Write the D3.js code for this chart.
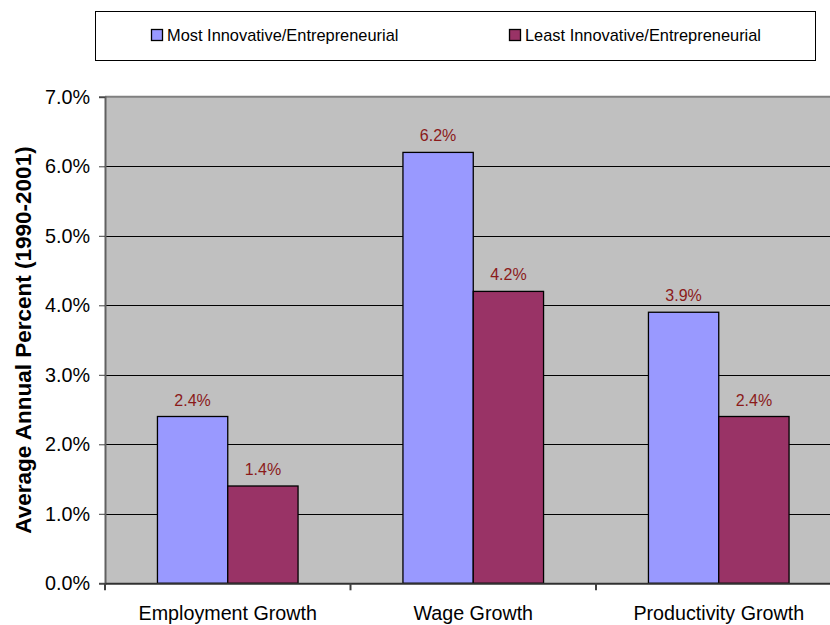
<!DOCTYPE html>
<html>
<head>
<meta charset="utf-8">
<script src="https://cdn.jsdelivr.net/npm/d3@7/dist/d3.min.js"></script>
<style>
  html, body { margin: 0; padding: 0; background: #fff; }
  svg { display: block; font-family: Arial, "Liberation Sans", sans-serif; }
</style>
</head>
<body>
<svg id="chart" width="830" height="625"></svg>
<script>
// Growth measures, 1990-2001, by innovation/entrepreneurship group
const categories = ["Employment Growth", "Wage Growth", "Productivity Growth"];
const seriesNames = ["Most Innovative/Entrepreneurial", "Least Innovative/Entrepreneurial"];
const mostValues = [0.024, 0.062, 0.039];
const leastValues = [0.014, 0.042, 0.024];
const yTicks = [0, 0.01, 0.02, 0.03, 0.04, 0.05, 0.06, 0.07];
const yTitle = "Average Annual Percent (1990-2001)";

const colors = ["#9999FF", "#993366"];
const labelColor = "#8B1A1A";

const svg = d3.select("#chart");

const plot = { left: 105, top: 96.8, right: 841.5, bottom: 583.3 };

const x0 = d3.scaleBand().domain(categories).range([plot.left, plot.right]).padding(0);
const bw = x0.bandwidth();
const gap = bw * 0.4273;
const x1 = d3.scaleBand().domain(seriesNames).range([gap / 2, bw - gap / 2]).padding(0);
const y = d3.scaleLinear().domain([0, 0.07]).range([plot.bottom, plot.top]);

// plot background
svg.append("rect")
  .attr("x", plot.left).attr("y", plot.top)
  .attr("width", plot.right - plot.left).attr("height", plot.bottom - plot.top)
  .attr("fill", "#C0C0C0");

// gridlines
svg.append("g")
  .selectAll("line")
  .data(yTicks.filter(t => t > 0 && t < 0.07))
  .join("line")
  .attr("x1", plot.left).attr("x2", plot.right)
  .attr("y1", d => Math.round(y(d)) + 0.5).attr("y2", d => Math.round(y(d)) + 0.5)
  .attr("stroke", "#000").attr("stroke-width", 1);

// top border of plot area
svg.append("line")
  .attr("x1", plot.left).attr("x2", plot.right)
  .attr("y1", plot.top).attr("y2", plot.top)
  .attr("stroke", "#808080").attr("stroke-width", 2);

// bars
const rows = categories.map((c, i) => ({ cat: c, vals: [mostValues[i], leastValues[i]] }));
const groups = svg.append("g").selectAll("g")
  .data(rows).join("g")
  .attr("transform", d => `translate(${x0(d.cat)},0)`);

groups.selectAll("rect")
  .data(d => d.vals.map((v, j) => ({ name: seriesNames[j], v, j })))
  .join("rect")
  .attr("x", d => x1(d.name))
  .attr("y", d => y(d.v))
  .attr("width", x1.bandwidth())
  .attr("height", d => y(0) - y(d.v))
  .attr("fill", d => colors[d.j])
  .attr("stroke", "#000").attr("stroke-width", 1.3);

groups.selectAll("text")
  .data(d => d.vals.map((v, j) => ({ name: seriesNames[j], v, j })))
  .join("text")
  .attr("x", d => x1(d.name) + x1.bandwidth() / 2)
  .attr("y", d => y(d.v) - 11)
  .attr("text-anchor", "middle")
  .attr("font-size", 16)
  .attr("fill", labelColor)
  .text(d => d3.format(".1%")(d.v));

// y axis
const yAxis = d3.axisLeft(y).tickValues(yTicks).tickFormat(d3.format(".1%")).tickSize(6).tickPadding(9);
const yg = svg.append("g").attr("transform", `translate(${plot.left},0)`).call(yAxis);
yg.select(".domain").attr("stroke", "#606060").attr("stroke-width", 2);
yg.selectAll(".tick line").attr("stroke", "#404040");
yg.selectAll(".tick text").attr("font-size", 19.8).attr("fill", "#000")
  .attr("font-family", "Arial, 'Liberation Sans', sans-serif");

// x axis
const xAxis = d3.axisBottom(x0).tickSize(0).tickPadding(23);
const xg = svg.append("g").attr("transform", `translate(0,${plot.bottom})`).call(xAxis);
xg.select(".domain").attr("stroke", "#303030").attr("stroke-width", 2);
xg.selectAll(".tick text").attr("font-size", 19.7).attr("fill", "#000")
  .attr("font-family", "Arial, 'Liberation Sans', sans-serif");
// category boundary ticks
svg.append("g").selectAll("line")
  .data(categories)
  .join("line")
  .attr("x1", d => x0(d)).attr("x2", d => x0(d))
  .attr("y1", plot.bottom).attr("y2", plot.bottom + 7)
  .attr("stroke", "#404040").attr("stroke-width", 2);

// y axis title
svg.append("text")
  .attr("transform", `translate(31,340) rotate(-90)`)
  .attr("text-anchor", "middle")
  .attr("font-size", 22.5)
  .attr("font-weight", "bold")
  .text(yTitle);

// legend
const legend = svg.append("g");
legend.append("rect")
  .attr("x", 95.5).attr("y", 11.5).attr("width", 720).attr("height", 49)
  .attr("fill", "#fff").attr("stroke", "#000").attr("stroke-width", 1);
const legendX = [151, 509];
seriesNames.forEach((name, i) => {
  legend.append("rect")
    .attr("x", legendX[i] + 0.5).attr("y", 29.5).attr("width", 11).attr("height", 11)
    .attr("fill", colors[i]).attr("stroke", "#000").attr("stroke-width", 1.3);
  legend.append("text")
    .attr("x", legendX[i] + 16).attr("y", 41)
    .attr("font-size", 16.4)
    .text(name);
});
</script>
</body>
</html>
